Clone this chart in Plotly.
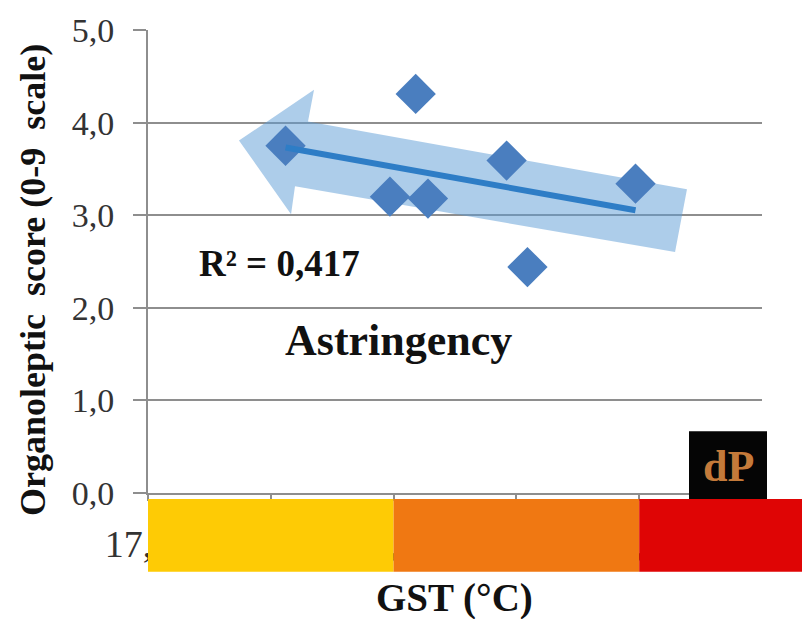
import numpy as np
import plotly.graph_objects as go

# Growing season temperature (°C) and astringency score
gst = [18.12, 18.97, 19.18, 19.28, 19.92, 20.09, 20.97]
astringency = [3.75, 3.20, 4.31, 3.18, 3.59, 2.44, 3.34]
r2_label = "R² = 0,417"

x_range = [17, 22]
y_range = [0, 5]

# GST climate classes shown as a colour band under the axis
class_bounds = [17, 19, 21, 22.33]
class_colors = ["#FECB05", "#F07812", "#DF0505"]

# Linear trend line
slope, intercept = np.polyfit(gst, astringency, 1)
tx = np.array([min(gst), max(gst)])
ty = slope * tx + intercept

W, H = 802, 619
ml, mr, mt, mb = 148, 40, 28, 126
serif = "Liberation Serif"
plot_w = W - ml - mr
plot_h = H - mt - mb


def px(v):
    return (v - x_range[0]) / (x_range[1] - x_range[0])


fig = go.Figure()
fig.add_trace(go.Scatter(
    x=gst, y=astringency, mode="markers",
    marker=dict(symbol="diamond", size=31, color="#4A7EBF"),
    showlegend=False, cliponaxis=False,
))
fig.add_trace(go.Scatter(
    x=tx, y=ty, mode="lines",
    line=dict(color="#2E7DC6", width=6),
    showlegend=False,
))

# Broad arrow indicating the decreasing trend
arrow = [(17.741, 3.806), (18.352, 4.355), (18.303, 4.011), (21.389, 3.280),
         (21.292, 2.602), (18.197, 3.312), (18.165, 3.011)]
path = "M " + " L ".join(f"{a},{b}" for a, b in arrow) + " Z"
fig.add_shape(type="path", path=path, xref="x", yref="y",
              fillcolor="rgba(91,155,213,0.5)", line=dict(width=0), layer="between")

# Colour band over the x tick labels
band_top = -6 / plot_h
band_bot = -79 / plot_h
for i, c in enumerate(class_colors):
    fig.add_shape(type="rect", xref="paper", yref="paper",
                  x0=px(class_bounds[i]), x1=px(class_bounds[i + 1]),
                  y0=band_bot, y1=band_top, fillcolor=c, line=dict(width=0), layer="above")

# Small logo box
fig.add_shape(type="rect", xref="paper", yref="paper",
              x0=(689 - ml) / plot_w, x1=(767 - ml) / plot_w,
              y0=band_top, y1=62 / plot_h, fillcolor="#050505", line=dict(width=0), layer="above")
fig.add_annotation(xref="paper", yref="paper", x=(728 - ml) / plot_w, y=27 / plot_h,
                   xanchor="center", yanchor="middle",
                   text="<b>dP</b>", showarrow=False,
                   font=dict(family=serif, size=44, color="#C47A3A"))

fig.add_annotation(x=18.07, y=2.48, xref="x", yref="y", text=f"<b>{r2_label}</b>",
                   xanchor="center", yanchor="middle",
                   showarrow=False, font=dict(family=serif, size=37, color="#111"))
fig.add_annotation(x=19.04, y=1.65, xref="x", yref="y", text="<b>Astringency</b>",
                   xanchor="center", yanchor="middle",
                   showarrow=False, font=dict(family=serif, size=44, color="#111"))
fig.add_annotation(xref="paper", yref="paper", x=(33 - ml) / plot_w, y=(493 - 279) / plot_h,
                   xanchor="center", yanchor="middle",
                   text="<b>Organoleptic  score (0-9  scale)</b>", textangle=-90, showarrow=False,
                   font=dict(family=serif, size=36, color="#111"))
fig.add_annotation(xref="paper", yref="paper", x=(454 - ml) / plot_w, y=(493 - 598) / plot_h,
                   xanchor="center", yanchor="middle",
                   text="<b>GST (°C)</b>", showarrow=False,
                   font=dict(family=serif, size=39, color="#111"))

grid = "#8E8E8E"
fig.update_layout(
    width=W, height=H,
    margin=dict(l=ml, r=mr, t=mt, b=mb),
    plot_bgcolor="white", paper_bgcolor="white",
    separators=", ",
    xaxis=dict(range=x_range, dtick=1, tickformat=".1f", showgrid=False, zeroline=False,
               showline=True, linecolor=grid, linewidth=2, ticks="outside", ticklen=6,
               tickcolor=grid, tickwidth=2, ticklabelshift=-10, ticklabelstandoff=10,
               tickfont=dict(family=serif, size=38, color="#333")),
    yaxis=dict(range=y_range, dtick=1, tickformat=".1f", showgrid=True, gridcolor=grid,
               gridwidth=2, zeroline=False, showline=True, linecolor=grid, linewidth=2,
               ticks="outside", ticklen=13, tickcolor=grid, tickwidth=2, ticklabelstandoff=12,
               tickfont=dict(family=serif, size=34, color="#333")),
)

fig.write_html("out.html")
